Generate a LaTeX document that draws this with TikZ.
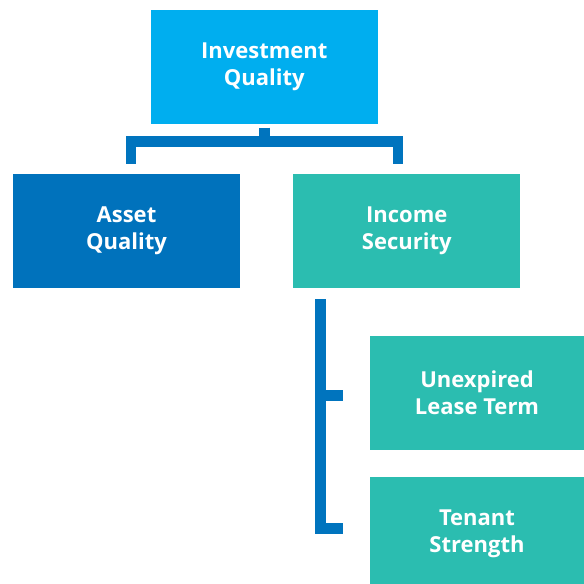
\documentclass[tikz,border=0pt]{standalone}
\usepackage{fontspec}
\setmainfont{Open Sans}
\usepackage{xcolor}
\definecolor{topColor}{RGB}{0, 174, 239}
\definecolor{assetColor}{RGB}{0, 114, 188}
\definecolor{incomeColor}{RGB}{43, 189, 176}
\definecolor{linkColor}{RGB}{0, 116, 190}

\begin{document}
\begin{tikzpicture}[x=1pt, y=-1pt,
    box/.style={rectangle, inner sep=0pt, text=white, align=center,
        font=\fontsize{22}{27}\selectfont\bfseries},
    link/.style={draw=linkColor, line width=10.5pt, line join=miter}]
    \useasboundingbox (0,0) rectangle (584,584);

    % Boxes of the hierarchy
    \node[box, fill=topColor, minimum width=226.7pt, minimum height=114pt] (invest) at (264.3,67) {Investment\\Quality};
    \node[box, fill=assetColor, minimum width=227pt, minimum height=113.5pt] (asset) at (126.5,230.75) {Asset\\Quality};
    \node[box, fill=incomeColor, minimum width=227pt, minimum height=113.5pt] (income) at (406.8,230.75) {Income\\Security};
    \node[box, fill=incomeColor, minimum width=214pt, minimum height=114pt] (lease) at (477,393) {Unexpired\\Lease Term};
    \node[box, fill=incomeColor, minimum width=214pt, minimum height=114pt] (tenant) at (477,534) {Tenant\\Strength};

    % Bracket under the top box
    \coordinate (fork) at (264.3,141.7);
    \draw[link] ([yshift=-3.3pt]invest.south) -- (fork);
    \draw[link] ([xshift=4.5pt, yshift=10pt]asset.north) |- (fork) -| ([xshift=-8.7pt, yshift=10pt]income.north);

    % Spine down to the sub-factors
    \coordinate (spine) at (320.3,299.3);
    \draw[link] ([xshift=-27.3pt, yshift=5.3pt]tenant.west) -| (spine);
    \draw[link] ([xshift=-27.3pt, yshift=-2.3pt]lease.west) -- ([yshift=-2.3pt]lease.west -| spine);
\end{tikzpicture}
\end{document}
